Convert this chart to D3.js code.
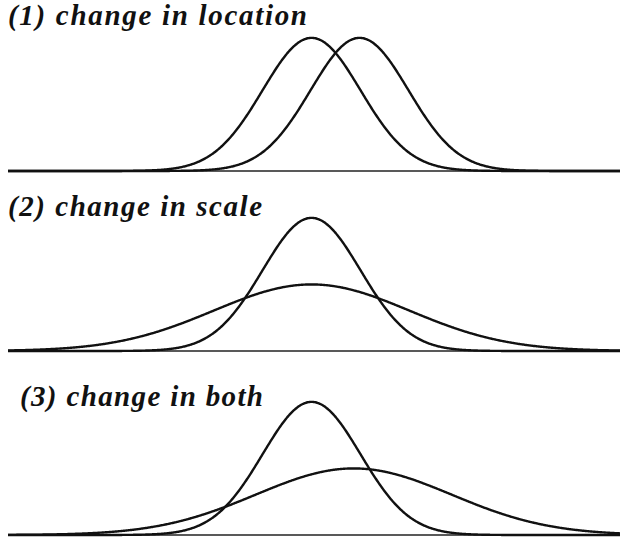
<!DOCTYPE html>
<html>
<head>
<meta charset="utf-8">
<script src="https://cdn.jsdelivr.net/npm/d3@7"></script>
<style>
  html, body { margin: 0; padding: 0; background: #fff; }
  svg { display: block; }
</style>
</head>
<body>
<div id="chart"></div>
<script>
// ---- data ----
const panelTitles = ["(1) change in location", "(2) change in scale", "(3) change in both"];
// each panel has two normal curves: [mean, sd] in standardized units
const panel1Curves = [[0, 1], [0.98, 1]];
const panel2Curves = [[0, 1], [0, 2]];
const panel3Curves = [[0, 1], [0.86, 2]];
const xDomain = [-6.2, 6.3];
const yDomain = [0, 0.4];

// ---- layout ----
const W = 626, H = 547;
const panels = [
  { title: panelTitles[0], curves: panel1Curves, base: 171, tx: 8, ty: 25, tw: 299 },
  { title: panelTitles[1], curves: panel2Curves, base: 351, tx: 8, ty: 216, tw: 254 },
  { title: panelTitles[2], curves: panel3Curves, base: 535, tx: 20, ty: 406, tw: 243 }
];

const svg = d3.select("#chart").append("svg").attr("width", W).attr("height", H);

const x = d3.scaleLinear().domain(xDomain).range([8, 620]);
const pdf = (v, m, s) => Math.exp(-0.5 * ((v - m) / s) ** 2) / (s * Math.sqrt(2 * Math.PI));
const xs = d3.range(xDomain[0], xDomain[1] + 1e-9, 0.02);

panels.forEach(p => {
  const y = d3.scaleLinear().domain(yDomain).range([p.base, p.base - 133.5]);
  const g = svg.append("g");
  g.append("line")
    .attr("x1", x(xDomain[0])).attr("x2", x(xDomain[1]))
    .attr("y1", p.base).attr("y2", p.base)
    .attr("stroke", "#222").attr("stroke-width", 1.6);
  const line = d3.line().x(d => x(d[0])).y(d => y(d[1])).curve(d3.curveBasis);
  p.curves.forEach(([m, s]) => {
    g.append("path")
      .attr("d", line(xs.map(v => [v, pdf(v, m, s)])))
      .attr("fill", "none").attr("stroke", "#111").attr("stroke-width", 2.4)
      .attr("stroke-linejoin", "round");
  });
  g.append("text")
    .attr("x", p.tx).attr("y", p.ty)
    .attr("font-family", "'Liberation Serif', serif")
    .attr("font-style", "italic").attr("font-weight", "bold")
    .attr("font-size", 29).attr("fill", "#111")
    .attr("textLength", p.tw).attr("lengthAdjust", "spacing")
    .text(p.title);
});
</script>
</body>
</html>
